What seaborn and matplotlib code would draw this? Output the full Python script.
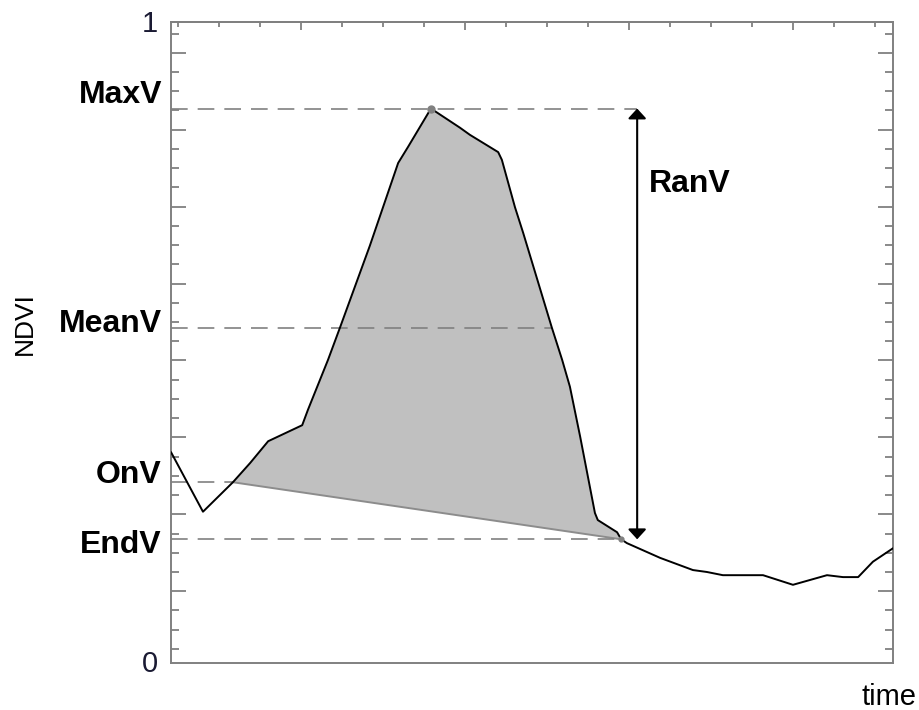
import numpy as np
import pandas as pd
import seaborn as sns
import matplotlib
matplotlib.use("Agg")
import matplotlib.pyplot as plt
import matplotlib.transforms as mtransforms

# ---------------- data ----------------
time = [0.0, 0.78, 1.51, 1.93, 2.37, 3.20, 3.34, 3.83, 4.12, 4.85, 5.54, 5.78,
        6.34, 7.05, 7.29, 7.98, 8.07, 8.39, 8.59, 9.29, 9.54, 9.73, 9.98, 10.34,
        10.41, 10.88, 10.98, 11.12, 11.93, 12.73, 13.07, 13.46, 14.44, 15.17,
        16.0, 16.39, 16.76, 17.12, 17.61]
ndvi = [0.329, 0.236, 0.282, 0.312, 0.346, 0.371, 0.395, 0.473, 0.523, 0.651,
        0.780, 0.805, 0.865, 0.835, 0.824, 0.797, 0.785, 0.711, 0.671, 0.523,
        0.473, 0.431, 0.353, 0.234, 0.223, 0.204, 0.193, 0.187, 0.164, 0.145,
        0.142, 0.137, 0.137, 0.122, 0.137, 0.134, 0.134, 0.158, 0.179]

level_names = ["MaxV", "MeanV", "OnV", "EndV"]
level_values = [0.865, 0.523, 0.282, 0.193]
level_end_time = [11.37, 9.29, 1.51, 10.98]   # where each dashed guide stops
on_idx = 2      # index of onset point in series
end_idx = 26    # index of end point in series
peak_idx = 12
ranv_time = 11.37
range_label = "RanV"

# ---------------- style ----------------
sns.set_style("white")
plt.rcParams["font.family"] = ["Liberation Sans", "DejaVu Sans"]
plt.rcParams["text.color"] = "black"

fig = plt.figure(figsize=(9.19, 7.10), dpi=100)
ax = fig.add_axes([171 / 919, 47 / 710, 722 / 919, 641 / 710])

df = pd.DataFrame({"time": time, "NDVI": ndvi})

# shaded area between curve and onset-end chord
seg_t = time[on_idx:end_idx + 1]
seg_v = ndvi[on_idx:end_idx + 1]
poly_t = list(seg_t) + [time[on_idx]]
poly_v = list(seg_v) + [ndvi[on_idx]]
ax.fill(poly_t, poly_v, color="#c0c0c0", lw=0, zorder=1)
ax.plot([time[on_idx], time[end_idx]], [ndvi[on_idx], ndvi[end_idx]],
        color="#8c8c8c", lw=1.4, zorder=2)

# dashed guide lines
for v, te in zip(level_values, level_end_time):
    ax.plot([0, te], [v, v], color="#808080", lw=1.2,
            linestyle=(0, (10, 6)), zorder=2)

sns.lineplot(data=df, x="time", y="NDVI", ax=ax, color="black", lw=1.4,
             sort=False, estimator=None, zorder=3)

ax.plot([time[peak_idx]], [ndvi[peak_idx]], "o", color="#808080", ms=5, zorder=4)
ax.plot([time[end_idx]], [ndvi[end_idx]], "o", color="#808080", ms=3.5, zorder=4)

# range arrow
ax.annotate("", xy=(ranv_time, level_values[0]), xytext=(ranv_time, level_values[3]),
            arrowprops=dict(arrowstyle="<|-|>,head_length=0.6,head_width=0.55",
                            color="black", lw=1.5, shrinkA=0, shrinkB=0),
            zorder=5)
ax.text(ranv_time + 0.29, 0.735, range_label, fontsize=23, fontweight="bold",
        ha="left", va="baseline", color="black")

# axes limits and ticks
ax.set_xlim(0, 17.61)
ax.set_ylim(0, 1)
ax.set_xlabel("")
ax.set_ylabel("")

ymaj = [0.112 + 0.12 * k for k in range(8)]
ymin = [0.022 + 0.03 * k for k in range(33) if (k - 3) % 4 != 0]
ax.set_yticks(ymaj)
ax.set_yticks(ymin, minor=True)
xmaj = [3, 7, 11, 15]
xmin = [k for k in range(1, 18) if k not in xmaj]
ax.set_xticks(xmaj)
ax.set_xticks(xmin, minor=True)
ax.tick_params(axis="both", which="both", direction="in", colors="#808080",
               labelleft=False, labelbottom=False, width=1.3)
ax.tick_params(axis="y", which="both", right=True, left=True)
ax.tick_params(axis="y", which="major", length=10.8)
ax.tick_params(axis="y", which="minor", length=5.5)
ax.tick_params(axis="x", which="major", length=7.2)
ax.tick_params(axis="x", which="minor", length=4)

top = ax.secondary_xaxis("top")
top.set_xticks([t + 0.17 for t in xmaj])
top.set_xticks([t + 0.17 for t in range(0, 18) if t not in xmaj], minor=True)
top.tick_params(axis="x", which="both", direction="in", colors="#808080",
                labeltop=False, width=1.3)
top.tick_params(axis="x", which="major", length=6)
top.tick_params(axis="x", which="minor", length=3.6)
top.spines["top"].set_color("#808080")
top.spines["top"].set_linewidth(1.4)

for s in ax.spines.values():
    s.set_color("#808080")
    s.set_linewidth(1.4)
    s.set_visible(True)

# left level labels
blend = mtransforms.blended_transform_factory(ax.transAxes, ax.transData)
label_baselines = [0.874, 0.516, 0.281, 0.172]
for name, yb in zip(level_names, label_baselines):
    ax.text(-0.0125, yb, name, transform=blend, fontsize=23, fontweight="bold",
            ha="right", va="baseline", color="black")

ax.text(-0.018, 0.984, "1", transform=blend, fontsize=21, ha="right",
        va="baseline", color="#1a1a33")
ax.text(-0.018, -0.014, "0", transform=blend, fontsize=21, ha="right",
        va="baseline", color="#1a1a33")

fig.text(25 / 919, 1 - 324 / 710, "NDVI", rotation=90, fontsize=19,
         ha="center", va="center", color="black")
fig.text(917 / 919, 5 / 710, "time", fontsize=21, ha="right", va="baseline",
         color="black")

fig.savefig("out.png", dpi=100)
